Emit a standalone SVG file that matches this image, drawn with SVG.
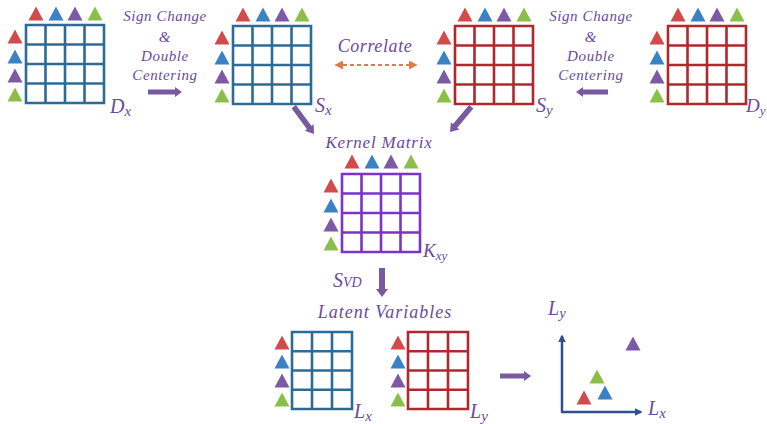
<svg xmlns="http://www.w3.org/2000/svg" xmlns:xlink="http://www.w3.org/1999/xlink" width="767" height="424" viewBox="0 0 767 424">
<style>
.lbl{font-family:'Liberation Serif','Times New Roman',serif;font-style:italic;fill:#6a4a9c;}
.gb{stroke:#2c6b96;}
.gr{stroke:#b0282e;}
.gp{stroke:#7b33c9;}
.grid{fill:#fff;stroke-width:2.6;}
.tr{fill:#d24a4a;}
.tb{fill:#3b82c4;}
.tp{fill:#7d5aa6;}
.tg{fill:#8cbf4a;}
.fat{fill:#7a5a9e;}
</style>
<defs>
<path id="tri" d="M0,-7.5 L7.5,6.5 L-7.5,6.5 Z"/>
<path id="g44" d="M0,0 H78 V78 H0 Z M19.5,0 V78 M39,0 V78 M58.5,0 V78 M0,19.5 H78 M0,39 H78 M0,58.5 H78"/>
<path id="g34" d="M0,0 H60 V77 H0 Z M20,0 V77 M40,0 V77 M0,19.25 H60 M0,38.5 H60 M0,57.75 H60"/>
<g id="toptri">
<use xlink:href="#tri" class="tr" x="10" y="-11"/>
<use xlink:href="#tri" class="tb" x="30" y="-11"/>
<use xlink:href="#tri" class="tp" x="49" y="-11"/>
<use xlink:href="#tri" class="tg" x="69" y="-11"/>
</g>
<g id="lefttri">
<use xlink:href="#tri" class="tr" x="-11" y="12"/>
<use xlink:href="#tri" class="tb" x="-11" y="32"/>
<use xlink:href="#tri" class="tp" x="-11" y="51"/>
<use xlink:href="#tri" class="tg" x="-11" y="70"/>
</g>
<marker id="oh" viewBox="0 0 10 10" refX="8" refY="5" markerWidth="4" markerHeight="4" orient="auto-start-reverse"><path d="M0,0 L10,5 L0,10 Z" fill="#e07a4a"/></marker>
<marker id="bh" viewBox="0 0 10 10" refX="8" refY="5" markerWidth="3.2" markerHeight="3.2" orient="auto"><path d="M0,0 L10,5 L0,10 Z" fill="#2f4f8f"/></marker>
</defs>

<g id="Dx" transform="translate(26,25)">
<use xlink:href="#g44" class="grid gb"/>
<use xlink:href="#toptri"/>
<use xlink:href="#lefttri"/>
<text class="lbl" x="84" y="88" font-size="20">D<tspan font-size="15" dy="3">x</tspan></text>
</g>

<g id="Sx" transform="translate(233,26)">
<use xlink:href="#g44" class="grid gb"/>
<use xlink:href="#toptri"/>
<use xlink:href="#lefttri"/>
<text class="lbl" x="82" y="86" font-size="20">S<tspan font-size="15" dy="3">x</tspan></text>
</g>

<g id="Sy" transform="translate(455,26)">
<use xlink:href="#g44" class="grid gr"/>
<use xlink:href="#toptri"/>
<use xlink:href="#lefttri"/>
<text class="lbl" x="81" y="86" font-size="20">S<tspan font-size="15" dy="3">y</tspan></text>
</g>

<g id="Dy" transform="translate(668,26)">
<use xlink:href="#g44" class="grid gr"/>
<use xlink:href="#toptri"/>
<use xlink:href="#lefttri"/>
<text class="lbl" x="78" y="86" font-size="19">D<tspan font-size="13" dy="3">y</tspan></text>
</g>

<g id="Kxy" transform="translate(342,174)">
<text class="lbl" x="37" y="-26" font-size="17" text-anchor="middle" letter-spacing="0.8">Kernel Matrix</text>
<use xlink:href="#g44" class="grid gp"/>
<g transform="translate(0,-1)"><use xlink:href="#toptri"/></g>
<use xlink:href="#lefttri"/>
<text class="lbl" x="81" y="83" font-size="19">K<tspan font-size="13" dy="3">xy</tspan></text>
</g>

<g id="Lx" transform="translate(292,332)">
<use xlink:href="#g34" class="grid gb"/>
<use xlink:href="#tri" class="tr" x="-10" y="11"/>
<use xlink:href="#tri" class="tb" x="-10" y="30"/>
<use xlink:href="#tri" class="tp" x="-10" y="49"/>
<use xlink:href="#tri" class="tg" x="-10" y="68"/>
<text class="lbl" x="62" y="86" font-size="20">L<tspan font-size="15" dy="3">x</tspan></text>
</g>

<g id="Ly" transform="translate(408,332)">
<use xlink:href="#g34" class="grid gr"/>
<use xlink:href="#tri" class="tr" x="-10" y="11"/>
<use xlink:href="#tri" class="tb" x="-10" y="30"/>
<use xlink:href="#tri" class="tp" x="-10" y="49"/>
<use xlink:href="#tri" class="tg" x="-10" y="68"/>
<text class="lbl" x="62" y="86" font-size="20">L<tspan font-size="15" dy="3">y</tspan></text>
</g>

<g id="plot">
<text class="lbl" x="548" y="315" font-size="20">L<tspan font-size="15" dy="3">y</tspan></text>
<text class="lbl" x="648" y="415" font-size="20">L<tspan font-size="15" dy="3">x</tspan></text>
<use xlink:href="#tri" class="tp" x="633" y="344"/>
<use xlink:href="#tri" class="tg" x="597" y="377"/>
<use xlink:href="#tri" class="tb" x="605" y="393"/>
<use xlink:href="#tri" class="tr" x="584" y="398"/>
</g>

<g id="texts">
<text class="lbl" font-size="15" text-anchor="middle" letter-spacing="0.6"><tspan x="165" y="21">Sign Change</tspan><tspan x="165" y="42">&amp;</tspan><tspan x="165" y="61">Double</tspan><tspan x="165" y="80">Centering</tspan></text>
<text class="lbl" font-size="15" text-anchor="middle" letter-spacing="0.6"><tspan x="591" y="21">Sign Change</tspan><tspan x="591" y="42">&amp;</tspan><tspan x="591" y="61">Double</tspan><tspan x="591" y="80">Centering</tspan></text>
<text class="lbl" x="375" y="52" font-size="18" text-anchor="middle" letter-spacing="0.6">Correlate</text>
<text class="lbl" x="333" y="287" font-size="20">S<tspan font-size="14">VD</tspan></text>
<text class="lbl" x="385" y="318" font-size="18" text-anchor="middle" letter-spacing="1">Latent Variables</text>
</g>

<g id="connectors">
<path class="fat" d="M148,89.5 H175 V87 L182,92 L175,97 V94.5 H148 Z"/>
<path class="fat" d="M608,89.5 H583 V87 L576,92 L583,97 V94.5 H608 Z"/>
<path class="fat" d="M0,0 L-8,-5.5 L-8,-2.8 L-34,-2.8 L-34,2.8 L-8,2.8 L-8,5.5 Z" transform="translate(314,134) rotate(53.5)"/>
<path class="fat" d="M0,0 L-8,-5.5 L-8,-2.8 L-33,-2.8 L-33,2.8 L-8,2.8 L-8,5.5 Z" transform="translate(450,132) rotate(130)"/>
<path class="fat" d="M379,268 H385 V289 H388 L382,297 L376,289 H379 Z"/>
<path class="fat" d="M500,373.5 H524 V371 L531,376 L524,381 V378.5 H500 Z"/>
<line x1="336" y1="65" x2="416" y2="65" stroke="#e07a4a" stroke-width="2.2" stroke-dasharray="4,3" marker-start="url(#oh)" marker-end="url(#oh)"/>
<line x1="562" y1="412" x2="562" y2="336" stroke="#2f4f8f" stroke-width="2.5" marker-end="url(#bh)"/>
<line x1="561" y1="412" x2="641" y2="412" stroke="#2f4f8f" stroke-width="2.5" marker-end="url(#bh)"/>
</g>
</svg>
